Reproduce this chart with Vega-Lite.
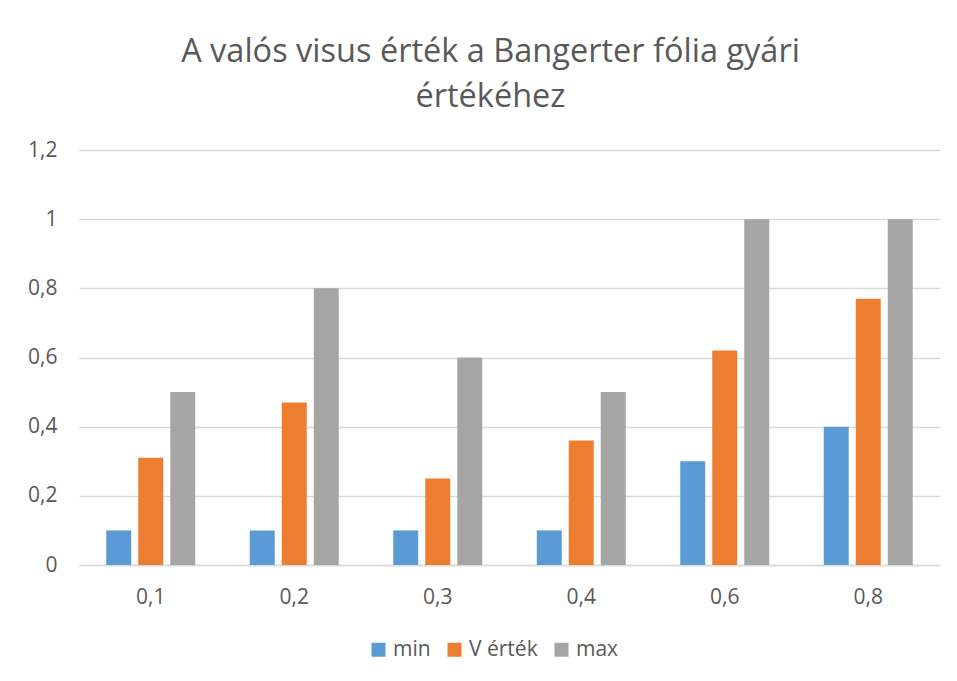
{
  "$schema": "https://vega.github.io/schema/vega-lite/v6.json",
  "autosize": {"type": "none"},
  "width": 861,
  "height": 415,
  "padding": {"left": 79, "top": 150, "right": 17, "bottom": 116},
  "background": "white",
  "config": {
    "locale": {"number": {"decimal": ",", "thousands": " ", "grouping": [3], "currency": ["", ""]}},
    "font": "Open Sans",
    "view": {"stroke": null}
  },
  "title": {
    "text": ["A valós visus érték a Bangerter fólia gyári", "értékéhez"],
    "font": "Open Sans",
    "fontSize": 32.5,
    "fontWeight": "normal",
    "color": "#595959",
    "lineHeight": 45,
    "anchor": "middle",
    "dx": -19,
    "offset": 26
  },
  "data": {
    "values": [
      {"cat": "0,1", "series": "min", "value": 0.1},
      {"cat": "0,1", "series": "V érték", "value": 0.31},
      {"cat": "0,1", "series": "max", "value": 0.5},
      {"cat": "0,2", "series": "min", "value": 0.1},
      {"cat": "0,2", "series": "V érték", "value": 0.47},
      {"cat": "0,2", "series": "max", "value": 0.8},
      {"cat": "0,3", "series": "min", "value": 0.1},
      {"cat": "0,3", "series": "V érték", "value": 0.25},
      {"cat": "0,3", "series": "max", "value": 0.6},
      {"cat": "0,4", "series": "min", "value": 0.1},
      {"cat": "0,4", "series": "V érték", "value": 0.36},
      {"cat": "0,4", "series": "max", "value": 0.5},
      {"cat": "0,6", "series": "min", "value": 0.3},
      {"cat": "0,6", "series": "V érték", "value": 0.62},
      {"cat": "0,6", "series": "max", "value": 1.0},
      {"cat": "0,8", "series": "min", "value": 0.4},
      {"cat": "0,8", "series": "V érték", "value": 0.77},
      {"cat": "0,8", "series": "max", "value": 1.0}
    ]
  },
  "mark": {"type": "bar"},
  "encoding": {
    "x": {
      "field": "cat",
      "type": "nominal",
      "sort": null,
      "scale": {"paddingInner": 0.38, "paddingOuter": 0.19},
      "axis": {
        "title": null,
        "labelAngle": 0,
        "labelFont": "Open Sans",
        "labelFontSize": 21,
        "labelColor": "#595959",
        "labelPadding": 21,
        "ticks": false,
        "domainColor": "#D9D9D9",
        "domainWidth": 1.5
      }
    },
    "xOffset": {
      "field": "series",
      "type": "nominal",
      "sort": ["min", "V érték", "max"],
      "scale": {"paddingInner": 0.22, "paddingOuter": 0}
    },
    "y": {
      "field": "value",
      "type": "quantitative",
      "scale": {"domain": [0, 1.2], "nice": false},
      "axis": {
        "title": null,
        "values": [0, 0.2, 0.4, 0.6, 0.8, 1.0, 1.2],
        "format": "~g",
        "labelFont": "Open Sans",
        "labelFontSize": 21,
        "labelColor": "#595959",
        "labelPadding": 22,
        "ticks": false,
        "domain": false,
        "gridColor": "#D9D9D9",
        "gridWidth": 1.5
      }
    },
    "color": {
      "field": "series",
      "type": "nominal",
      "sort": ["min", "V érték", "max"],
      "scale": {"domain": ["min", "V érték", "max"], "range": ["#5B9BD5", "#ED7D31", "#A5A5A5"]},
      "legend": {
        "title": null,
        "orient": "none",
        "direction": "horizontal",
        "legendX": 289,
        "legendY": 489,
        "symbolType": "square",
        "symbolSize": 196,
        "symbolStrokeWidth": 0,
        "labelFont": "Open Sans",
        "labelFontSize": 21,
        "labelColor": "#595959",
        "labelOffset": 4,
        "columnPadding": 13
      }
    }
  }
}
